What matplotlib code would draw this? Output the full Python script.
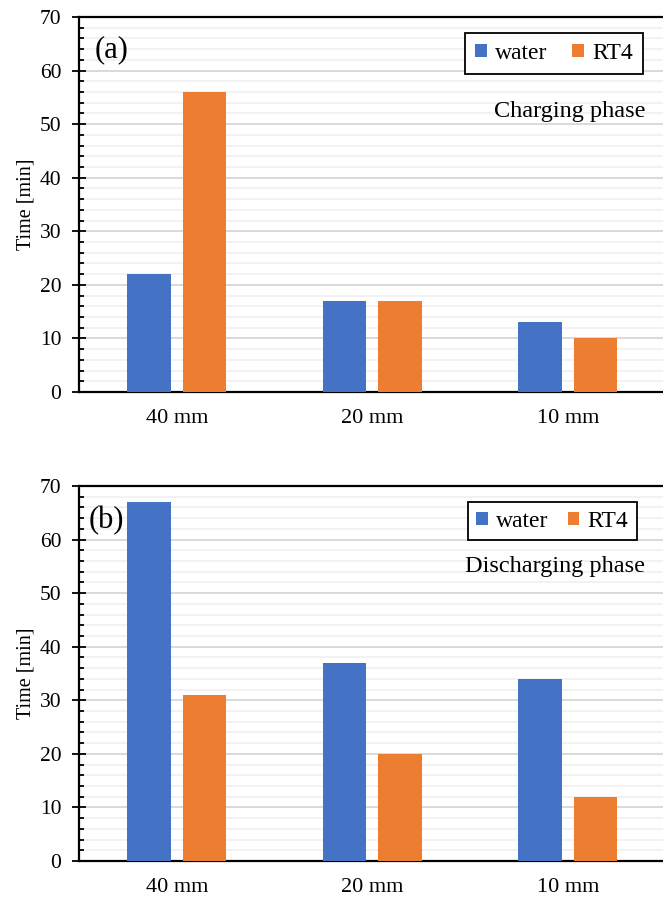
import matplotlib
matplotlib.use("Agg")
import matplotlib.pyplot as plt
import numpy as np
from matplotlib.ticker import MultipleLocator

plt.rcParams['font.family'] = ['Liberation Serif', 'DejaVu Serif']

categories = ["40 mm", "20 mm", "10 mm"]
charging_water = [22, 17, 13]
charging_rt4 = [56, 17, 10]
discharging_water = [67, 37, 34]
discharging_rt4 = [31, 20, 12]
series_names = ["water", "RT4"]
colors = ["#4472C4", "#ED7D31"]

fig = plt.figure(figsize=(6.63, 9.0), dpi=100)
W, H = 663, 900
LEFT, RIGHT = 79, 665.5
AW = RIGHT - LEFT

def make_ax(top_px, bottom_px):
    return fig.add_axes([LEFT / W, 1 - bottom_px / H, AW / W, (bottom_px - top_px) / H])

ax1 = make_ax(17, 392)
ax2 = make_ax(486, 861)

def fx(px):
    return (px - LEFT) / AW

panels = [
    (ax1, charging_water, charging_rt4, "(a)", "Charging phase",
     (fx(95), 0.912), (fx(645), (392 - 117) / 375), (fx(643), 0.957), 1.05, 0.42),
    (ax2, discharging_water, discharging_rt4, "(b)", "Discharging phase",
     (fx(89), 0.909), (fx(645), (861 - 572) / 375), (fx(637), 0.957), 0.8, 0.36),
]

x = np.arange(len(categories))
bw = 0.222
off = 0.142
for ax, w, r, lab, phase, labpos, phpos, legpos, colsp, bpad in panels:
    ax.bar(x - off, w, bw, color=colors[0], label=series_names[0], zorder=3)
    ax.bar(x + off, r, bw, color=colors[1], label=series_names[1], zorder=3)
    ax.set_xlim(-0.5, 2.5)
    ax.set_ylim(0, 70)
    ax.yaxis.set_major_locator(MultipleLocator(10))
    ax.yaxis.set_minor_locator(MultipleLocator(2))
    ax.grid(which='major', axis='y', color='#d9d9d9', linewidth=1.4, zorder=0)
    ax.grid(which='minor', axis='y', color='#f2f2f2', linewidth=1.4, zorder=0)
    ax.set_xticks(x)
    ax.set_xticklabels(categories, fontsize=16)
    ax.tick_params(axis='x', length=0, pad=12)
    ax.tick_params(axis='y', which='major', direction='inout', length=9.5, width=1.3,
                   labelsize=15.5, pad=8)
    ax.tick_params(axis='y', which='minor', direction='in', length=3.8, width=1.3)
    for s in ['left', 'bottom', 'top']:
        ax.spines[s].set_linewidth(1.6)
        ax.spines[s].set_color('black')
    ax.spines['right'].set_visible(False)
    ax.set_ylabel("Time [min]", fontsize=14.5)
    ax.yaxis.set_label_coords(fx(35), 0.5)
    ax.text(labpos[0], labpos[1], lab, transform=ax.transAxes, fontsize=22, va='center', ha='left')
    ax.text(phpos[0], phpos[1], phase, transform=ax.transAxes, fontsize=17.5,
            va='baseline', ha='right')
    leg = ax.legend(loc='upper right', bbox_to_anchor=legpos, ncol=2, fontsize=17,
                    handlelength=0.5, handleheight=0.5, handletextpad=0.35, columnspacing=colsp,
                    fancybox=False, framealpha=1, edgecolor='black', borderpad=bpad,
                    borderaxespad=0)
    leg.get_frame().set_linewidth(1.3)

fig.savefig("out.png", dpi=100)
